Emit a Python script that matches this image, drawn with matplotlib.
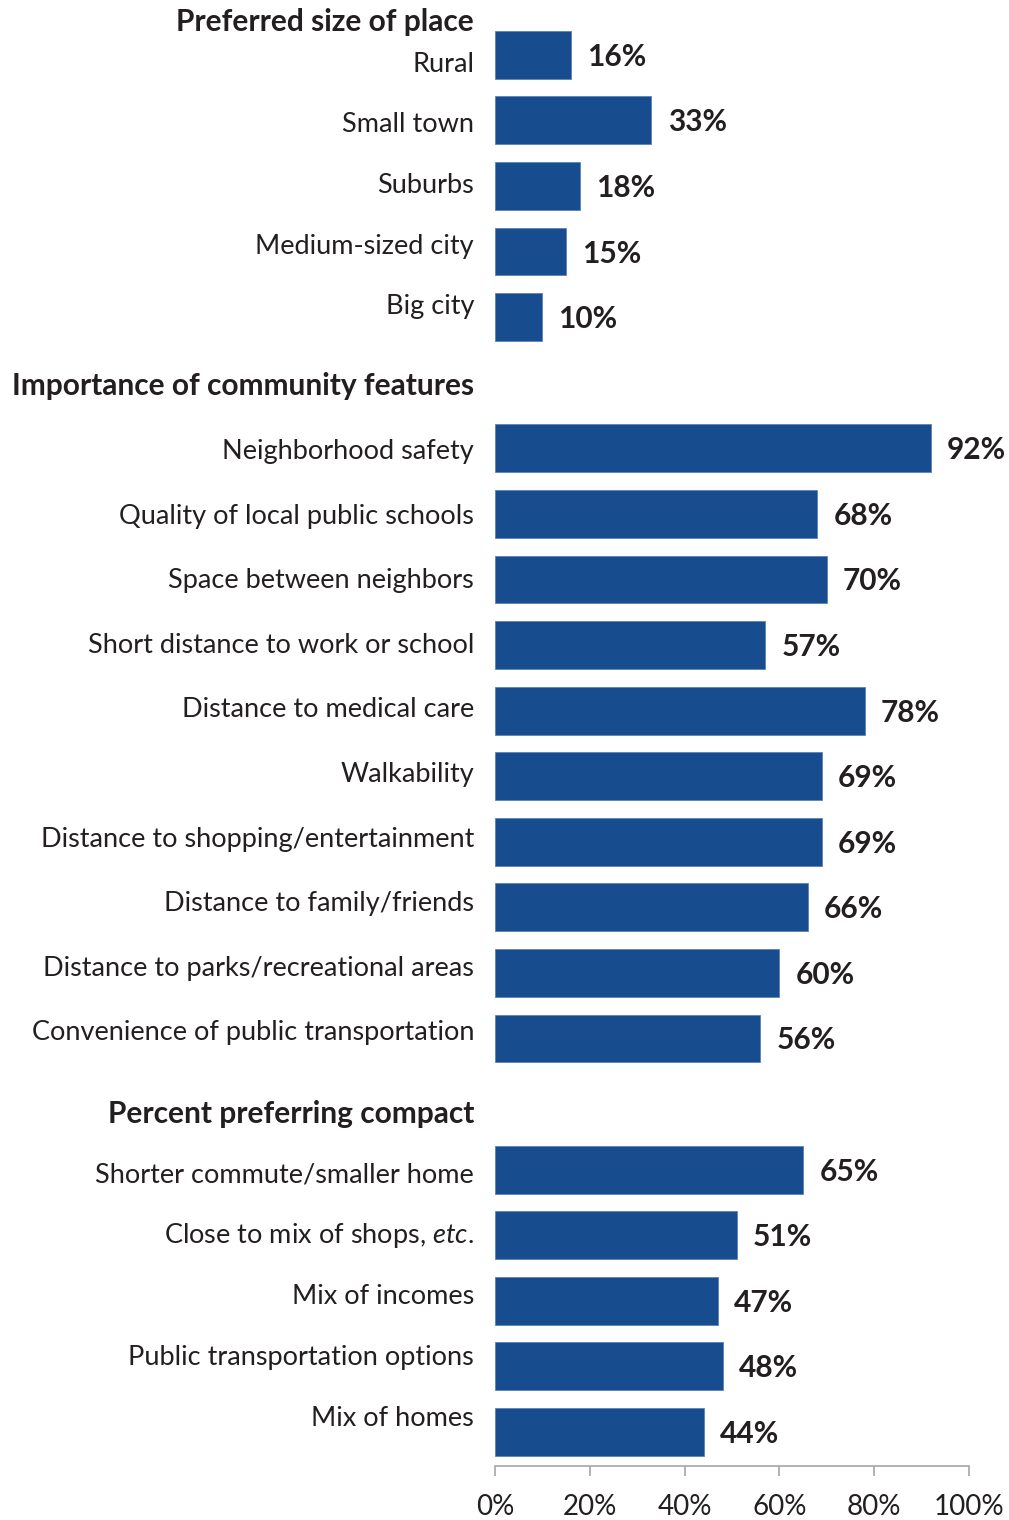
import numpy as np
import matplotlib.pyplot as plt
from matplotlib.transforms import blended_transform_factory

plt.rcParams['font.family'] = ['Lato', 'DejaVu Sans']
plt.rcParams['mathtext.fontset'] = 'custom'
plt.rcParams['mathtext.rm'] = 'Lato'
plt.rcParams['mathtext.it'] = 'Lato:italic'

# Survey results, grouped in three sections
size_labels = ['Rural', 'Small town', 'Suburbs', 'Medium-sized city', 'Big city']
size_values = [16, 33, 18, 15, 10]

feature_labels = ['Neighborhood safety', 'Quality of local public schools',
                  'Space between neighbors', 'Short distance to work or school',
                  'Distance to medical care', 'Walkability',
                  'Distance to shopping/entertainment', 'Distance to family/friends',
                  'Distance to parks/recreational areas',
                  'Convenience of public transportation']
feature_values = [92, 68, 70, 57, 78, 69, 69, 66, 60, 56]

compact_labels = ['Shorter commute/smaller home', 'Close to mix of shops, $\\it{etc}$.',
                  'Mix of incomes', 'Public transportation options', 'Mix of homes']
compact_values = [65, 51, 47, 48, 44]

headers = ['Preferred size of place', 'Importance of community features',
           'Percent preferring compact']

bar_color = '#174C8E'
text_color = '#231F20'
label_size = 19.5
bold_size = 21.5

fig = plt.figure(figsize=(10.09, 15.2), dpi=100)
ax = fig.add_axes([0.4906, 0.0355, 0.4698, 0.95])

# each section header takes one empty slot before its bars
sections = [(size_labels, size_values, 0.14, 0.926),
            (feature_labels, feature_values, 0.05, 0.985),
            (compact_labels, compact_values, 0.08, 0.928)]
header_shift = [-0.50, 0.05, 0.15]

lbl_trans = blended_transform_factory(ax.transAxes, ax.transData)
pos = 0
for (labels, values, lbl_off, lbl_step), hdr, hshift in zip(sections, headers, header_shift):
    hdr_y = pos + hshift if pos > 0 else hshift
    ax.text(-0.0443, hdr_y, hdr, transform=lbl_trans, ha='right', va='center',
            fontsize=bold_size, fontweight='bold', color=text_color)
    if pos > 0:
        pos += 1
    ys = pos + np.arange(len(values))
    ax.barh(ys, values, height=0.73, color=bar_color, edgecolor='#5B82B8', linewidth=0.6)
    for i, (lab, v) in enumerate(zip(labels, values)):
        ax.text(-0.0443, pos + lbl_off + i * lbl_step, lab, transform=lbl_trans,
                ha='right', va='center', fontsize=label_size, color=text_color)
        ax.text(v + 3.4, ys[i] + 0.03, f'{v}%', ha='left', va='center', fontsize=bold_size,
                fontweight='bold', color=text_color)
    pos += len(values)

ax.set_ylim(21.52, -0.5)
ax.set_xlim(0, 100)
ax.set_yticks([])
ax.set_xticks(np.arange(0, 101, 20))
ax.set_xticklabels([f'{t}%' for t in range(0, 101, 20)])
ax.tick_params(axis='x', direction='out', length=7, width=1.2, color='#A6A6A6',
               labelsize=20, labelcolor=text_color, pad=13)
for s in ['top', 'right', 'left']:
    ax.spines[s].set_visible(False)
ax.spines['bottom'].set_color('#A6A6A6')
ax.spines['bottom'].set_linewidth(1.2)

fig.savefig('out.png', dpi=100)
